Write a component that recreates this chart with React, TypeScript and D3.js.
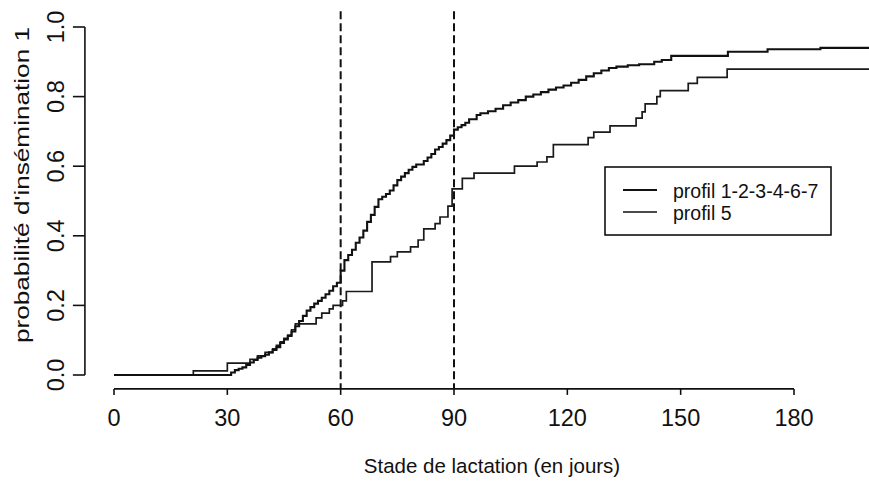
import React from "react";
import * as d3 from "d3";

// Kaplan-Meier style cumulative probability steps: [day, probability]
const profilA: [number, number][] = [
  [0, 0], [31, 0.007], [32, 0.014], [33, 0.018], [34, 0.022], [35, 0.029], [36, 0.036],
  [37, 0.043], [38, 0.05], [39, 0.054], [40, 0.058], [41, 0.065], [42, 0.072], [43, 0.08],
  [44, 0.092], [45, 0.102], [46, 0.112], [47, 0.125], [48, 0.14], [49, 0.155], [50, 0.17],
  [51, 0.185], [52, 0.195], [53, 0.205], [54, 0.213], [55, 0.222], [56, 0.232], [57, 0.242],
  [58, 0.255], [59, 0.265], [60, 0.3], [61, 0.33], [62, 0.345], [63, 0.36], [64, 0.38],
  [65, 0.395], [66, 0.415], [67, 0.44], [68, 0.46], [69, 0.483], [70, 0.505], [71, 0.512],
  [72, 0.52], [73, 0.53], [74, 0.545], [75, 0.56], [76, 0.57], [77, 0.58], [78, 0.59],
  [79, 0.598], [80, 0.605], [82, 0.615], [83, 0.625], [84, 0.635], [85, 0.648], [86, 0.655],
  [87, 0.665], [88, 0.675], [89, 0.688], [90, 0.705], [91, 0.712], [92, 0.718], [93, 0.725],
  [94, 0.735], [96, 0.747], [97, 0.752], [99, 0.758], [101, 0.765], [103, 0.775], [105, 0.783],
  [107, 0.79], [109, 0.8], [111, 0.806], [113, 0.813], [115, 0.82], [117, 0.826], [119, 0.832],
  [121, 0.84], [123, 0.848], [125, 0.858], [127, 0.867], [129, 0.875], [131, 0.882], [133, 0.886],
  [136, 0.89], [139, 0.893], [143, 0.9], [145, 0.905], [147.5, 0.917], [162.5, 0.929],
  [173, 0.936], [187, 0.94], [210, 0.94],
];

const profilB: [number, number][] = [
  [0, 0], [21, 0.012], [30, 0.034], [36, 0.045], [38, 0.055], [40, 0.065], [42, 0.075],
  [43, 0.085], [44, 0.095], [45, 0.105], [46, 0.115], [47, 0.13], [48, 0.147], [53.5, 0.164],
  [55, 0.178], [57, 0.19], [58, 0.2], [60.5, 0.213], [61.5, 0.24], [68.3, 0.325], [73.2, 0.34],
  [75, 0.354], [78.5, 0.368], [80.5, 0.388], [82, 0.42], [85, 0.435], [86.3, 0.454],
  [88.4, 0.485], [89.5, 0.535], [92.2, 0.565], [95.3, 0.58], [106, 0.6], [112, 0.612],
  [114.6, 0.627], [116.3, 0.662], [125.5, 0.682], [127, 0.698], [131.3, 0.716], [138.2, 0.738],
  [139.8, 0.756], [140.6, 0.779], [143.7, 0.8], [144.6, 0.817], [152, 0.838], [154.4, 0.855],
  [162.3, 0.879], [210, 0.879],
];

const xTicks = [0, 30, 60, 90, 120, 150, 180];
const yTicks = [0, 0.2, 0.4, 0.6, 0.8, 1.0];
const yTickLabels = ["0.0", "0.2", "0.4", "0.6", "0.8", "1.0"];
const referenceDays = [60, 90];
const legendLabels = ["profil 1-2-3-4-6-7", "profil 5"];
const xTitle = "Stade de lactation (en jours)";
const yTitle = "probabilité d'insémination 1";

const W = 869;
const H = 482;
const FONT = "'Liberation Sans', Arial, Helvetica, sans-serif";

export default function App() {
  const x = d3.scaleLinear().domain([0, 180]).range([114, 794]);
  const y = d3.scaleLinear().domain([0, 1]).range([375, 27]);

  const line = d3
    .line<[number, number]>()
    .x((d) => x(d[0]))
    .y((d) => y(d[1]))
    .curve(d3.curveStepAfter);

  const xAxisY = y(-0.04);
  const yAxisX = x(-7.7);

  return (
    <svg
      width={W}
      height={H}
      style={{ position: "absolute", left: 0, top: 0, background: "#fff" }}
      fontFamily={FONT}
    >
      <rect x={0} y={0} width={W} height={H} fill="#fff" />
      <defs>
        <clipPath id="plotclip">
          <rect x={yAxisX} y={0} width={W - yAxisX} height={xAxisY} />
        </clipPath>
      </defs>

      {/* reference dashed lines */}
      {referenceDays.map((d) => (
        <line
          key={d}
          x1={x(d)}
          x2={x(d)}
          y1={y(1.045)}
          y2={y(-0.04)}
          stroke="#111"
          strokeWidth={2}
          strokeDasharray="8,4"
        />
      ))}

      {/* curves */}
      <g clipPath="url(#plotclip)" fill="none">
        <path d={line(profilB) || ""} stroke="#1a1a1a" strokeWidth={1.7} />
        <path d={line(profilA) || ""} stroke="#111" strokeWidth={2.1} />
      </g>

      {/* x axis */}
      <g stroke="#111" strokeWidth={1.6}>
        <line x1={x(0)} x2={x(180)} y1={xAxisY} y2={xAxisY} />
        {xTicks.map((t) => (
          <line key={t} x1={x(t)} x2={x(t)} y1={xAxisY} y2={xAxisY + 6} />
        ))}
      </g>
      {xTicks.map((t) => (
        <text
          key={t}
          x={x(t)}
          y={426}
          textAnchor="middle"
          fontSize={23.5}
          fill="#111"
        >
          {t}
        </text>
      ))}

      {/* y axis */}
      <g stroke="#111" strokeWidth={1.6}>
        <line x1={yAxisX} x2={yAxisX} y1={y(0)} y2={y(1)} />
        {yTicks.map((t) => (
          <line key={t} x1={yAxisX - 12} x2={yAxisX} y1={y(t)} y2={y(t)} />
        ))}
      </g>
      {yTicks.map((t, i) => (
        <text
          key={t}
          transform={`translate(64,${y(t)}) rotate(-90)`}
          textAnchor="middle"
          fontSize={23.5}
          fill="#111"
        >
          {yTickLabels[i]}
        </text>
      ))}

      {/* axis titles */}
      <text x={492} y={473} textAnchor="middle" fontSize={20.5} fill="#111">
        {xTitle}
      </text>
      <text
        transform={`translate(29,185) rotate(-90)`}
        textAnchor="middle"
        fontSize={19.5}
        fill="#111"
        textLength={316}
        lengthAdjust="spacingAndGlyphs"
      >
        {yTitle}
      </text>

      {/* legend */}
      <rect x={605} y={167} width={226} height={68} fill="#fff" stroke="#111" strokeWidth={1.6} />
      {legendLabels.map((lab, i) => (
        <g key={lab}>
          <line
            x1={623}
            x2={657}
            y1={190 + i * 22}
            y2={190 + i * 22}
            stroke="#111"
            strokeWidth={i === 0 ? 2 : 1.7}
          />
          <text x={673} y={198 + i * 22} fontSize={19.5} fill="#111">
            {lab}
          </text>
        </g>
      ))}
    </svg>
  );
}
